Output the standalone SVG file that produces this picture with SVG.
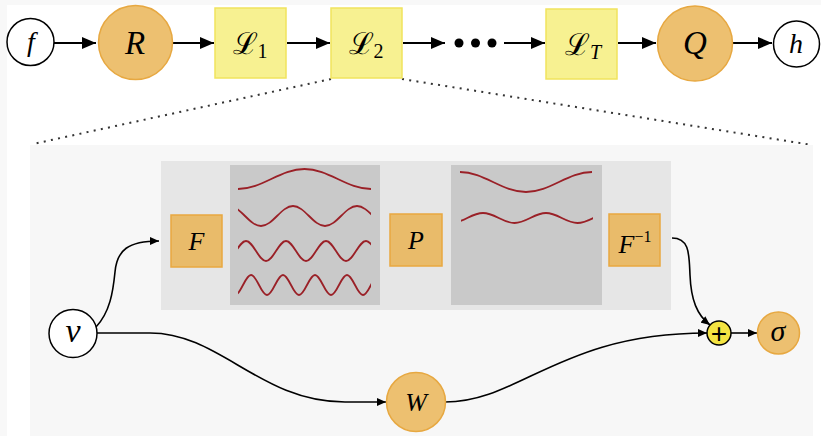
<svg xmlns="http://www.w3.org/2000/svg" width="821" height="436" viewBox="0 0 821 436">
  <style>
    .orc {fill:#EDC070; stroke:#E7A841; stroke-width:1.5}
    .lbox {fill:#F7F191; stroke:#F1E35E; stroke-width:1.5}
    .obox {fill:#E9BB6A; stroke:#E9A840; stroke-width:1.5}
    .wc {fill:#FFFFFF; stroke:#000; stroke-width:1.5}
    .m {font-family:"Liberation Serif","Times New Roman",serif; font-style:italic; fill:#000; text-anchor:middle}
    .scr {font-family:"DejaVu Serif","Liberation Serif",serif; font-style:normal}
    .wave {fill:none; stroke:#9A2027; stroke-width:1.8}
    .edge {fill:none; stroke:#000; stroke-width:2}
    .edge2 {fill:none; stroke:#000; stroke-width:1.6}
    .dot {fill:none; stroke:#333; stroke-width:2; stroke-dasharray:2 5.3}
  </style>
  <defs>
    <marker id="ah" markerUnits="userSpaceOnUse" markerWidth="14" markerHeight="12" refX="14" refY="6" orient="auto">
      <path d="M0,0 L14,6 L0,12 z" fill="#000"/>
    </marker>
    <marker id="as" markerUnits="userSpaceOnUse" markerWidth="9" markerHeight="8" refX="9" refY="4" orient="auto">
      <path d="M0,0 L9,4 L0,8 z" fill="#000"/>
    </marker>
    <clipPath id="c1"><rect x="238" y="160" width="133" height="150"/></clipPath>
    <clipPath id="c2"><rect x="461" y="160" width="132" height="150"/></clipPath>
  </defs>

  <!-- background -->
  <rect x="0" y="0" width="821" height="436" fill="#FFFFFF"/>
  <rect x="0" y="0" width="7" height="436" fill="#F8F8F8"/>
  <rect x="0" y="0" width="821" height="5" fill="#F8F8F8"/>

  <!-- zoom dotted lines -->
  <line class="dot" x1="331" y1="79" x2="33" y2="144"/>
  <line class="dot" x1="402" y1="79" x2="812" y2="145"/>

  <!-- detail panel -->
  <g id="panel">
    <rect x="30" y="145" width="783" height="291" fill="#F7F7F7"/>
    <rect x="161" y="161" width="510" height="149" fill="#E6E6E6"/>
  </g>

  <g id="waves-in">
    <rect x="230" y="165" width="150" height="140" fill="#C9C9C9"/>
    <path class="wave" d="M238,189 C262.2,189 280.3,169 304.5,169 C328.7,169 346.8,189 371,189"/>
    <g clip-path="url(#c1)">
      <path class="wave" d="M229,206 C240.65,206 249.35,226 261,226 C272.65,226 281.35,206 293,206 C304.65,206 313.35,226 325,226 C336.65,226 345.35,206 357,206 C368.65,206 377.35,226 389,226"/>
      <path class="wave" d="M226,261 C233.28,261 238.72,241 246,241 C253.28,241 258.72,261 266,261 C273.28,261 278.72,241 286,241 C293.28,241 298.72,261 306,261 C313.28,261 318.72,241 326,241 C333.28,241 338.72,261 346,261 C353.28,261 358.72,241 366,241 C373.28,241 378.72,261 386,261"/>
      <path class="wave" d="M235,295 C240.83,295 245.17,275 251,275 C256.83,275 261.17,295 267,295 C272.83,295 277.17,275 283,275 C288.83,275 293.17,295 299,295 C304.83,295 309.17,275 315,275 C320.83,275 325.17,295 331,295 C336.83,295 341.17,275 347,275 C352.83,275 357.17,295 363,295 C368.83,295 373.17,275 379,275"/>
    </g>
  </g>

  <g id="waves-out">
    <rect x="451" y="165" width="151" height="140" fill="#C9C9C9"/>
    <path class="wave" d="M460,172 C484.04,172 501.96,192 526,192 C550.04,192 567.96,172 592,172"/>
    <g clip-path="url(#c2)">
      <path class="wave" d="M451.5,223 C462.97,223 471.53,213 483,213 C494.47,213 503.03,223 514.5,223 C525.97,223 534.53,213 546,213 C557.47,213 566.03,223 577.5,223 C588.97,223 597.53,213 609,213"/>
    </g>
  </g>

  <!-- connectors -->
  <g id="connectors">
    <line class="edge" x1="54" y1="43" x2="96" y2="43" marker-end="url(#ah)"/>
    <line class="edge" x1="173" y1="43" x2="214" y2="43" marker-end="url(#ah)"/>
    <line class="edge" x1="287" y1="43" x2="330" y2="43" marker-end="url(#ah)"/>
    <line class="edge" x1="403" y1="43" x2="445" y2="43" marker-end="url(#ah)"/>
    <line class="edge" x1="504" y1="43" x2="545" y2="43" marker-end="url(#ah)"/>
    <line class="edge" x1="618" y1="43" x2="656" y2="43" marker-end="url(#ah)"/>
    <line class="edge" x1="733" y1="43" x2="772" y2="43" marker-end="url(#ah)"/>

    <path class="edge2" d="M96,327 C110,312 113,292 115,272 C117,250 128,241 159,241" marker-end="url(#as)"/>
    <path class="edge2" d="M97,333 L150,333 C220,333 260,402 345,402 L386,402" marker-end="url(#as)"/>
    <path class="edge2" d="M445,402 C520,402 560,333 707,333" marker-end="url(#as)"/>
    <path class="edge2" d="M672,238 C690,238 689,255 690,275 C691,300 697,315 710,325" marker-end="url(#as)"/>
    <line class="edge2" x1="731" y1="333" x2="757" y2="333" marker-end="url(#as)"/>
  </g>

  <!-- top row nodes -->
  <g id="node-f">
    <circle class="wc" cx="30.5" cy="42" r="23.5"/>
    <text class="m" x="31" y="51" font-size="28">f</text>
  </g>
  <g id="node-R">
    <circle class="orc" cx="135.5" cy="42.5" r="37"/>
    <text class="m" x="135" y="54" font-size="33">R</text>
  </g>
  <g id="node-L1">
    <rect class="lbox" x="215" y="8" width="71" height="70"/>
    <text class="m" x="250" y="54" font-size="30"><tspan class="scr">ℒ</tspan><tspan font-size="20" font-style="normal" dy="4">1</tspan></text>
  </g>
  <g id="node-L2">
    <rect class="lbox" x="331" y="8" width="71" height="70"/>
    <text class="m" x="366" y="54" font-size="30"><tspan class="scr">ℒ</tspan><tspan font-size="20" font-style="normal" dy="4">2</tspan></text>
  </g>
  <g id="node-dots">
    <circle cx="459" cy="43" r="4.5" fill="#000"/>
    <circle cx="475.5" cy="43" r="4.5" fill="#000"/>
    <circle cx="492" cy="43" r="4.5" fill="#000"/>
  </g>
  <g id="node-LT">
    <rect class="lbox" x="546" y="9" width="71" height="70"/>
    <text class="m" x="583" y="55" font-size="30"><tspan class="scr">ℒ</tspan><tspan font-size="20" dy="4">T</tspan></text>
  </g>
  <g id="node-Q">
    <circle class="orc" cx="695" cy="43.5" r="37.5"/>
    <text class="m" x="695" y="54" font-size="33">Q</text>
  </g>
  <g id="node-h">
    <circle class="wc" cx="796.5" cy="44" r="23"/>
    <text class="m" x="796" y="53" font-size="28">h</text>
  </g>

  <!-- detail nodes -->
  <g id="node-F">
    <rect class="obox" x="171" y="215" width="51" height="52"/>
    <text class="m" x="196.5" y="250" font-size="26">F</text>
  </g>
  <g id="node-P">
    <rect class="obox" x="390" y="214" width="52" height="52"/>
    <text class="m" x="416" y="249" font-size="26">P</text>
  </g>
  <g id="node-Finv">
    <rect class="obox" x="609" y="214" width="51" height="52"/>
    <text class="m" x="635" y="253" font-size="26">F<tspan font-size="16" font-style="normal" dy="-11">−1</tspan></text>
  </g>
  <g id="node-v">
    <circle class="wc" cx="73" cy="333.5" r="24"/>
    <text class="m" x="73" y="342" font-size="34">v</text>
  </g>
  <g id="node-W">
    <circle class="orc" cx="416" cy="402" r="29.5"/>
    <text class="m" x="416" y="411" font-size="26">W</text>
  </g>
  <g id="node-plus">
    <circle cx="719" cy="333" r="12" fill="#F4E442" stroke="#000" stroke-width="1.5"/>
    <text x="719" y="342.5" font-size="28" font-family="Liberation Sans, Arial, sans-serif" text-anchor="middle" fill="#000">+</text>
  </g>
  <g id="node-sigma">
    <circle class="orc" cx="778.5" cy="333" r="21"/>
    <text class="m" x="778" y="341" font-size="30">σ</text>
  </g>
</svg>
